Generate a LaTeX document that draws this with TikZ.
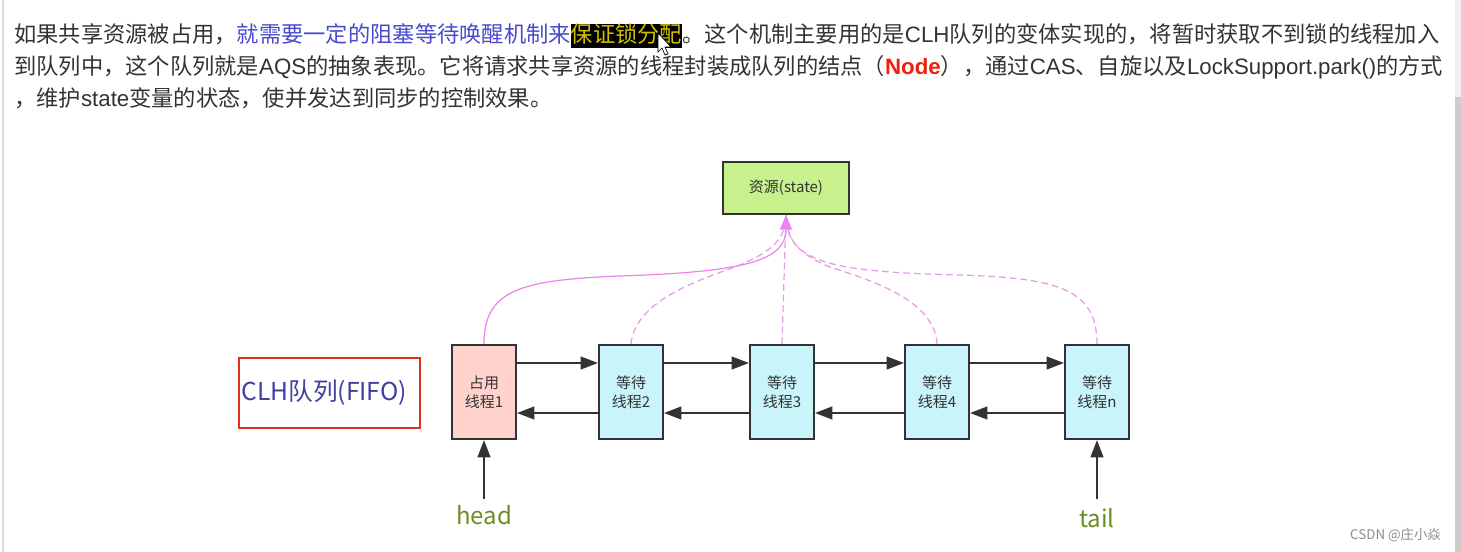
\documentclass[tikz,border=0pt]{standalone}
\usepackage{fontspec}
\setmainfont{Liberation Sans}
\newfontfamily\cjk{Noto Sans CJK SC}
\newfontfamily\arialf{Liberation Sans}
\usetikzlibrary{arrows.meta,calc}
\definecolor{textgray}{HTML}{333333}
\definecolor{linkblue}{HTML}{4A4ACF}
\definecolor{hlyellow}{HTML}{D0C000}
\definecolor{nodered}{HTML}{F02010}
\definecolor{resgreen}{HTML}{C8F08C}
\definecolor{pinkfill}{HTML}{FFD2CE}
\definecolor{cyanfill}{HTML}{C8F4FA}
\definecolor{clhblue}{HTML}{4040A0}
\definecolor{clhred}{HTML}{E03020}
\definecolor{lblgreen}{HTML}{6B8E23}
\definecolor{pinkline}{HTML}{EE82EE}
\definecolor{pinkdash}{HTML}{E49AE4}
\definecolor{boxline}{HTML}{333333}
\newcommand\La[1]{{\arialf #1}}
\newcommand\hlbox[1]{{\setlength{\fboxsep}{0pt}\colorbox{black}{\rule[-3.75pt]{0pt}{18pt}\textcolor{hlyellow}{#1}}}}
\tikzset{
  txt/.style={anchor=base west,inner sep=0pt,text=textgray,font=\cjk\fontsize{16.7}{20}\selectfont},
  qbox/.style={draw=boxline,line width=1.5pt,minimum width=48pt,minimum height=70.5pt,inner sep=0pt,align=center,text=textgray,font=\cjk\fontsize{11.25}{14}\selectfont},
  arr/.style={draw=boxline,line width=1.6pt,-{Triangle[length=13pt,width=9.5pt]}},
  plink/.style={draw=pinkline,line width=0.9pt},
  pdash/.style={draw=pinkdash,line width=0.9pt,dash pattern=on 5pt off 3pt},
  lbl/.style={inner sep=0pt,text=lblgreen,font=\cjk\fontsize{18}{20}\selectfont}
}
\begin{document}
\begin{tikzpicture}[x=0.75pt,y=-0.75pt]
\useasboundingbox (0,0) rectangle (1461,552);
\fill[white] (0,0) rectangle (1461,552);
% window edges
\draw[black!15,line width=1pt] (3,0) -- (3,552);
\fill[black!6] (1455,0) rectangle (1461,97);
\fill[black!20] (1455,97) rectangle (1461,552);

% paragraph
\node[txt] (l1) at (14,43) {如果共享资源被占用，\textcolor{linkblue}{就需要一定的阻塞等待唤醒机制来}\hlbox{保证锁分配}。这个机制主要用的是\La{CLH}队列的变体实现的，将暂时获取不到锁的线程加入};
\node[txt] (l2) at (14,75) {到队列中，这个队列就是\La{AQS}的抽象表现。它将请求共享资源的线程封装成队列的结点（\textcolor{nodered}{\La{\bfseries Node}}），通过\La{CAS}、自旋以及\La{LockSupport.park()}的方式};
\node[txt] (l3) at (14,107) {，维护\La{state}变量的状态，使并发达到同步的控制效果。};
% mouse cursor
\draw[black,fill=white,line width=0.5pt] (658,33) -- (658,52) -- (662,48) -- (665,55) -- (668,54) -- (665,47) -- (671,47) -- cycle;

% resource
\node[draw=boxline,line width=1.5pt,fill=resgreen,minimum width=94.5pt,minimum height=39pt,inner sep=0pt,text=textgray,font=\cjk\fontsize{11.25}{14}\selectfont] (res) at (786,188) {资源(state)};

% CLH label box
\node[draw=clhred,line width=1.5pt,fill=white,minimum width=135.75pt,minimum height=52.5pt,inner sep=0pt,text=clhblue,font=\cjk\fontsize{18.5}{20}\selectfont] (clh) at (329.5,393) {\hspace*{-8pt}CLH队列(FIFO)};

% queue nodes
\node[qbox,fill=pinkfill] (b1) at (484,392) {占用\\线程1};
\node[qbox,fill=cyanfill] (b2) at (631,392) {等待\\线程2};
\node[qbox,fill=cyanfill] (b3) at (782,392) {等待\\线程3};
\node[qbox,fill=cyanfill] (b4) at (937,392) {等待\\线程4};
\node[qbox,fill=cyanfill] (bn) at (1097,392) {等待\\线程n};

% next / prev arrows
\foreach \a/\b in {b1/b2,b2/b3,b3/b4,b4/bn}{
  \draw[arr] ($(\a.east)+(0,-29)$) -- ($(\b.west)+(0,-29)$);
  \draw[arr] ($(\b.west)+(0,21)$) -- ($(\a.east)+(0,21)$);
}

% head / tail
\node[lbl] (head) at (484,515) {head};
\node[lbl] (tail) at (1097,518) {tail};
\coordinate (hs) at (484,499);
\coordinate (ts) at (1097,499);
\draw[arr] (hs) -- (b1.south);
\draw[arr] (ts) -- (bn.south);

% links to resource
\draw[pdash] (b2.north) .. controls (635,300) and (700,280) .. (740,265) .. controls (770,252) and (786,240) .. (res.south);
\draw[pdash] (b3.north) -- (res.south);
\draw[pdash] (b4.north) .. controls (935,300) and (870,280) .. (830,267) .. controls (800,255) and (786,240) .. (res.south);
\draw[pdash] (bn.north) .. controls (1097,290) and (1060,278) .. (960,275) .. controls (830,272) and (786,262) .. (res.south);
\draw[plink,-{Triangle[length=11pt,width=9pt]}] (b1.north) .. controls (484,290) and (520,280) .. (620,276) .. controls (740,272) and (786,262) .. (res.south);

% watermark
\node[anchor=east,inner sep=0pt,text=black!45,font=\cjk\fontsize{10}{12}\selectfont] (wm) at (1441,535) {CSDN @庄小焱};
\end{tikzpicture}
\end{document}
